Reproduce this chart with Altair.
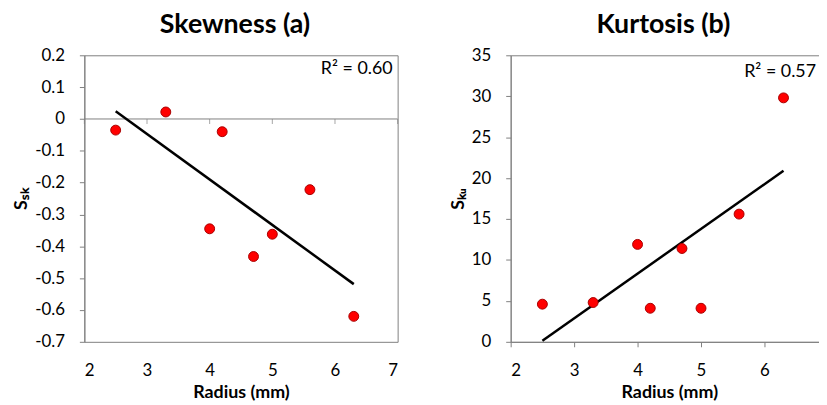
import altair as alt
import pandas as pd

# ---- data ----
radius = [2.5, 3.3, 4.0, 4.2, 4.7, 5.0, 5.6, 6.3]
skewness = [-0.035, 0.022, -0.345, -0.04, -0.432, -0.362, -0.222, -0.62]
kurtosis = [4.6, 4.8, 11.9, 4.1, 11.4, 4.1, 15.6, 29.8]
x_ticks = [2, 3, 4, 5, 6, 7]
sk_ticks = [-0.7, -0.6, -0.5, -0.4, -0.3, -0.2, -0.1, 0, 0.1, 0.2]
ku_ticks = [0, 5, 10, 15, 20, 25, 30, 35]
titles = ["Skewness (a)", "Kurtosis (b)"]
r2_labels = ["R² = 0.60", "R² = 0.57"]

FONT = "Lato"
GRAY = "#808080"
df_sk = pd.DataFrame({"radius": radius, "value": skewness})
df_ku = pd.DataFrame({"radius": radius, "value": kurtosis})
df_ticks = pd.DataFrame({"radius": x_ticks})
one = pd.DataFrame({"k": [0]})

Y_LAB_SK = "datum.value == 0 ? '0' : replace(format(datum.value, '.1f'), '\u2212', '-')"
Y_LAB_KU = "format(datum.value, 'd')"
X_LAB = "format(datum.value, 'd')"


def panel(df, y_domain, y_ticks, y_lab, y_title, title, r2, width, height, zero_line,
          r2_pos, title_dx):
    xs = alt.Scale(domain=[2, 7], nice=False, zero=False)
    ys = alt.Scale(domain=y_domain, nice=False, zero=False)
    if zero_line:
        xaxis = alt.Axis(values=x_ticks, ticks=False, domain=False, grid=False,
                         labelPadding=21, labelExpr=X_LAB, labelOverlap=False,
                         title="Radius (mm)", titlePadding=5)
    else:
        xaxis = alt.Axis(values=x_ticks, ticks=True, tickSize=5, domain=True, grid=False,
                         labelPadding=16, labelExpr=X_LAB, labelOverlap=False,
                         title="Radius (mm)", titlePadding=5)
    yaxis = alt.Axis(values=y_ticks, tickSize=5, grid=False, labelPadding=15,
                     labelExpr=y_lab, labelOverlap=False, title=y_title, titlePadding=4)
    X = alt.X("radius:Q", scale=xs, axis=xaxis)
    Y = alt.Y("value:Q", scale=ys, axis=yaxis)
    base = alt.Chart(df)
    pts = base.mark_circle(size=100, opacity=1, color="#ff0000", stroke="#a80000",
                           strokeWidth=1).encode(x=X, y=Y)
    fit = base.transform_regression("radius", "value").mark_line(
        color="black", strokeWidth=2.5).encode(x=X, y=Y)
    txt = alt.Chart(one).mark_text(align="right", baseline="middle", fontSize=18,
                                   font=FONT, color="black").encode(
        x=alt.value(width - r2_pos[0]), y=alt.value(r2_pos[1]), text=alt.value(r2))
    ttl = alt.Chart(one).mark_text(align="center", baseline="alphabetic", fontSize=27,
                                   font=FONT, fontWeight="bold", color="black").encode(
        x=alt.value(width / 2 + title_dx), y=alt.value(-22), text=alt.value(title))
    layers = []
    if zero_line:
        zl = alt.Chart(one).mark_rule(color=GRAY, strokeWidth=1).encode(
            y=alt.datum(0, scale=ys, axis=yaxis))
        tk = alt.Chart(df_ticks).mark_tick(orient="vertical", size=5, thickness=1,
                                           color=GRAY, yOffset=2.5).encode(
            x=X, y=alt.datum(0, scale=ys, axis=yaxis))
        layers += [zl, tk]
    layers += [fit, pts, txt, ttl]
    return alt.layer(*layers).properties(width=width, height=height)


left = panel(df_sk, [-0.7, 0.2], sk_ticks, Y_LAB_SK, "S\u209b\u2096", titles[0],
             r2_labels[0], 316, 289, True, (5, 14), -6)
right = panel(df_ku, [0, 35], ku_ticks, Y_LAB_KU, "S\u2096\u1d64", titles[1],
              r2_labels[1], 320, 289, False, (12, 17), -6)

chart = alt.hconcat(left, right, spacing=50).properties(
    padding={"left": 4, "top": 1, "right": -10, "bottom": 0}
).configure_view(stroke=GRAY, strokeWidth=1).configure_axis(
    domainColor=GRAY, tickColor=GRAY, labelColor="black", labelFont=FONT,
    labelFontSize=17, titleFont=FONT, titleFontSize=18, titleFontWeight="bold",
    titleColor="black",
)

chart.save("out.html", embed_options={"renderer": "svg", "actions": False})
